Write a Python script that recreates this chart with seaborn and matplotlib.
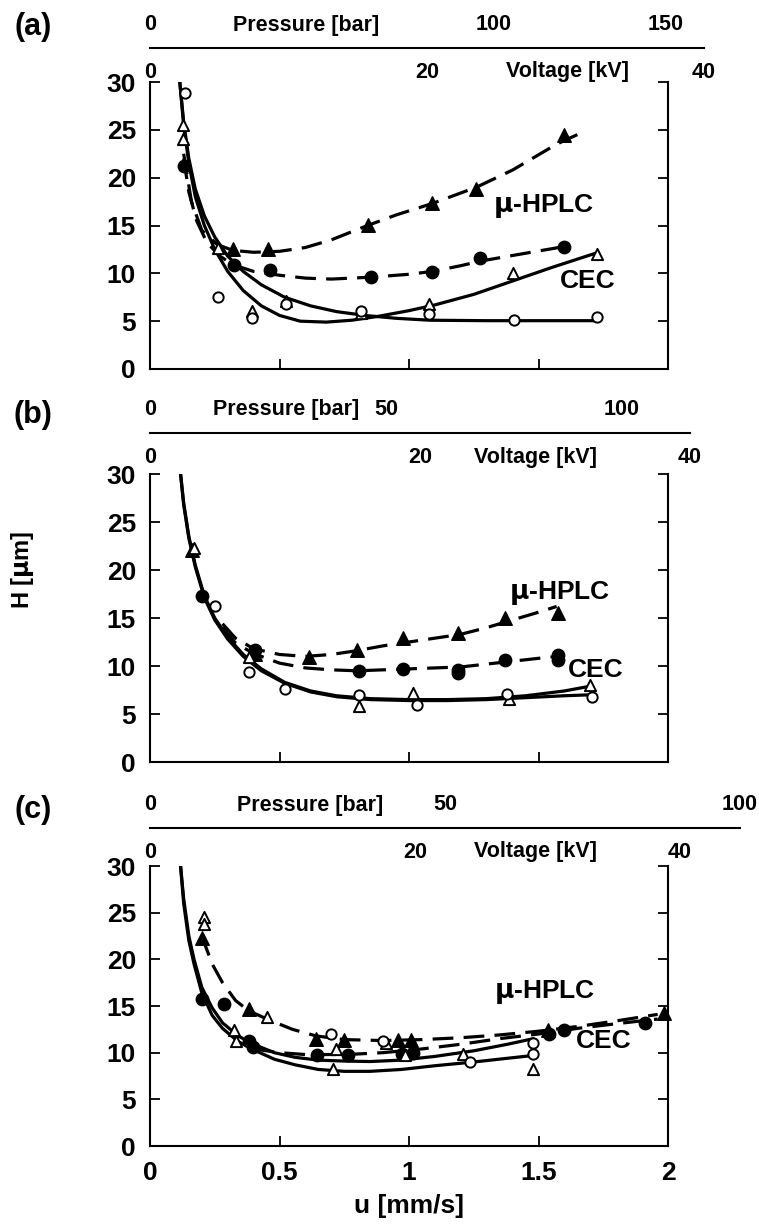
import matplotlib
matplotlib.use("Agg")
import matplotlib.pyplot as plt
import seaborn as sns
import numpy as np

sns.set_theme(style="white")
plt.rcParams['font.family'] = ['Liberation Sans', 'DejaVu Sans']
plt.rcParams['font.weight'] = 'bold'
plt.rcParams['mathtext.fontset'] = 'dejavusans'
for key in ['text.color', 'axes.labelcolor', 'xtick.color', 'ytick.color', 'axes.edgecolor']:
    plt.rcParams[key] = 'black'

# ---------------- data: panel (a) ----------------
a_ft_u = [0.32, 0.455, 0.84, 1.09, 1.26, 1.6]
a_ft_h = [12.5, 12.5, 15.1, 17.4, 18.8, 24.5]
a_fc_u = [0.131, 0.324, 0.462, 0.855, 1.09, 1.276, 1.6]
a_fc_h = [21.2, 10.9, 10.3, 9.6, 10.1, 11.6, 12.8]
a_ot_u = [0.127, 0.127, 0.262, 0.393, 0.524, 0.814, 1.076, 1.40, 1.724]
a_ot_h = [25.5, 24.0, 12.6, 6.1, 7.1, 5.9, 6.8, 10.0, 12.0]
a_oc_u = [0.135, 0.262, 0.393, 0.524, 0.814, 1.076, 1.407, 1.724]
a_oc_h = [28.9, 7.5, 5.3, 6.8, 6.1, 5.8, 5.1, 5.4]
a_cec_t_u = [0.115, 0.13, 0.15, 0.175, 0.21, 0.25, 0.3, 0.36, 0.43, 0.5, 0.58, 0.68, 0.78, 0.88, 1.0, 1.1, 1.25, 1.4, 1.55, 1.72]
a_cec_t_h = [30, 25.5, 21.5, 18, 15, 12.5, 10.2, 8.2, 6.6, 5.6, 5.0, 4.9, 5.1, 5.5, 6.1, 6.7, 7.8, 9.2, 10.6, 12.1]
a_cec_c_u = [0.115, 0.13, 0.15, 0.175, 0.21, 0.25, 0.3, 0.36, 0.43, 0.52, 0.62, 0.72, 0.83, 0.95, 1.08, 1.3, 1.72]
a_cec_c_h = [30, 25.8, 22, 18.8, 16, 13.8, 11.8, 10.2, 8.8, 7.5, 6.6, 6.0, 5.6, 5.3, 5.1, 5.05, 5.05]
a_lc_t_u = [0.13, 0.16, 0.2, 0.26, 0.32, 0.4, 0.5, 0.6, 0.7, 0.84, 0.95, 1.09, 1.26, 1.4, 1.57, 1.65]
a_lc_t_h = [22.5, 17.5, 14.5, 13.0, 12.4, 12.2, 12.3, 12.7, 13.5, 15.0, 16.1, 17.3, 19.0, 20.8, 23.5, 24.5]
a_lc_c_u = [0.13, 0.15, 0.18, 0.22, 0.27, 0.32, 0.4, 0.5, 0.6, 0.7, 0.855, 1.0, 1.09, 1.2, 1.28, 1.45, 1.6]
a_lc_c_h = [22, 18.5, 15.5, 13.2, 11.8, 10.9, 10.2, 9.8, 9.5, 9.4, 9.6, 9.9, 10.2, 10.8, 11.3, 12.1, 12.8]

# ---------------- data: panel (b) ----------------
b_ft_u = [0.164, 0.404, 0.613, 0.80, 0.975, 1.19, 1.372, 1.574]
b_ft_h = [22.1, 11.3, 10.9, 11.7, 12.9, 13.4, 15.0, 15.5]
b_fc_u = [0.202, 0.404, 0.808, 0.975, 1.19, 1.19, 1.37, 1.574, 1.574]
b_fc_h = [17.3, 11.7, 9.5, 9.7, 9.6, 9.3, 10.6, 11.1, 10.6]
b_ot_u = [0.17, 0.383, 0.808, 1.017, 1.386, 1.70]
b_ot_h = [22.3, 10.9, 5.8, 7.2, 6.6, 8.0]
b_oc_u = [0.25, 0.383, 0.522, 0.808, 1.03, 1.38, 1.706]
b_oc_h = [16.2, 9.4, 7.6, 7.0, 5.9, 7.1, 6.8]
b_cec_t_u = [0.118, 0.13, 0.15, 0.175, 0.21, 0.25, 0.3, 0.36, 0.43, 0.52, 0.62, 0.72, 0.85, 1.0, 1.15, 1.3, 1.45, 1.6, 1.7]
b_cec_t_h = [30, 27, 23.5, 20.5, 17.3, 15, 13, 11.2, 9.7, 8.3, 7.4, 6.9, 6.6, 6.5, 6.5, 6.6, 6.9, 7.4, 7.9]
b_cec_c_u = [0.118, 0.13, 0.15, 0.175, 0.21, 0.25, 0.3, 0.36, 0.43, 0.52, 0.62, 0.72, 0.85, 1.0, 1.15, 1.3, 1.45, 1.6, 1.7]
b_cec_c_h = [30, 26.8, 23.3, 20.3, 17.1, 14.8, 12.8, 11.0, 9.5, 8.2, 7.3, 6.8, 6.5, 6.4, 6.4, 6.5, 6.7, 6.9, 7.0]
b_lc_t_u = [0.28, 0.33, 0.4, 0.5, 0.6, 0.7, 0.8, 0.9, 1.0, 1.1, 1.2, 1.3, 1.4, 1.5, 1.57]
b_lc_t_h = [14.4, 12.9, 11.8, 11.2, 11.0, 11.2, 11.6, 12.1, 12.5, 12.9, 13.3, 14.0, 14.8, 15.6, 16.2]
b_lc_c_u = [0.28, 0.33, 0.4, 0.5, 0.6, 0.7, 0.8, 0.9, 1.0, 1.1, 1.2, 1.3, 1.4, 1.5, 1.574]
b_lc_c_h = [14.0, 12.4, 11.3, 10.3, 9.8, 9.6, 9.5, 9.6, 9.7, 9.8, 9.9, 10.2, 10.5, 10.8, 11.0]

# ---------------- data: panel (c) ----------------
c_ft_u = [0.201, 0.382, 0.639, 0.75, 0.958, 1.007, 1.535, 1.985]
c_ft_h = [22.3, 14.7, 11.5, 11.35, 11.35, 11.35, 12.4, 14.2]
c_fc_u = [0.201, 0.285, 0.382, 0.396, 0.646, 0.764, 0.972, 1.014, 1.54, 1.597, 1.91]
c_fc_h = [15.8, 15.2, 11.2, 10.6, 9.75, 9.75, 9.9, 10.0, 12.0, 12.4, 13.2]
c_ot_u = [0.208, 0.208, 0.326, 0.333, 0.451, 0.708, 0.72, 0.91, 0.986, 1.208, 1.479]
c_ot_h = [24.5, 23.8, 12.4, 11.3, 13.8, 8.3, 10.4, 11.0, 9.8, 9.9, 8.3]
c_oc_u = [0.70, 0.90, 1.236, 1.48, 1.48]
c_oc_h = [12.0, 11.3, 9.0, 11.0, 9.9]
c_cec_1_u = [0.118, 0.13, 0.15, 0.17, 0.2, 0.24, 0.28, 0.34, 0.4, 0.48, 0.56, 0.65, 0.75, 0.85, 0.97, 1.1, 1.25, 1.38, 1.48]
c_cec_1_h = [30, 26.5, 22.5, 20, 17, 14.8, 13.2, 11.8, 10.9, 10.0, 9.5, 9.2, 9.1, 9.05, 9.2, 9.6, 10.2, 10.9, 11.5]
c_cec_2_u = [0.118, 0.13, 0.15, 0.17, 0.2, 0.24, 0.28, 0.34, 0.4, 0.48, 0.56, 0.65, 0.75, 0.85, 0.97, 1.1, 1.25, 1.38, 1.48]
c_cec_2_h = [30, 26, 22, 19.5, 16.4, 14, 12.6, 11.2, 10.3, 9.3, 8.7, 8.2, 8.0, 8.0, 8.2, 8.6, 9.0, 9.4, 9.7]
c_lc_t_u = [0.2, 0.24, 0.28, 0.33, 0.38, 0.46, 0.55, 0.64, 0.75, 0.9, 1.05, 1.2, 1.35, 1.5, 1.65, 1.8, 1.96]
c_lc_t_h = [22.5, 19.5, 17.5, 15.6, 14.5, 13.5, 12.5, 11.8, 11.4, 11.3, 11.4, 11.6, 11.9, 12.3, 12.8, 13.4, 14.1]
c_lc_c_u = [0.4, 0.5, 0.6, 0.76, 0.9, 1.05, 1.2, 1.35, 1.5, 1.65, 1.8, 1.96]
c_lc_c_h = [10.4, 10.0, 9.8, 9.8, 10.0, 10.4, 10.9, 11.5, 12.0, 12.6, 13.1, 13.6]

u_ticks = [0, 0.5, 1, 1.5, 2]
u_ticklabels = ["0", "0.5", "1", "1.5", "2"]
h_ticks = [0, 5, 10, 15, 20, 25, 30]
volt_ticks = [0, 20, 40]
press_ticks_a = [0, 100, 150]
press_ticks_b = [0, 50, 100]
press_ticks_c = [0, 50, 100]
panel_labels = ["(a)", "(b)", "(c)"]

W, HH = 759, 1228
fig = plt.figure(figsize=(W / 100, HH / 100), dpi=100)

def fx(px):
    return px / W

def fy(py):
    return 1 - py / HH

TICKFS = 19
SMALLFS = 15.5
LW = 2.3
DASH = (0, (6.5, 3.2))

panels = [
    dict(top=82, bot=369, line_y=48, v0=150, v40=704, vend=704, pscale=3.44, pticks=press_ticks_a,
         lab_y=27, vlab_x=568, plab_x=306,
         solid=[(a_cec_t_u, a_cec_t_h), (a_cec_c_u, a_cec_c_h)],
         dashed=[(a_lc_t_u, a_lc_t_h), (a_lc_c_u, a_lc_c_h)],
         ft=(a_ft_u, a_ft_h), fc=(a_fc_u, a_fc_h), ot=(a_ot_u, a_ot_h), oc=(a_oc_u, a_oc_h),
         hplc=(1.52, 17.0), cec=(1.69, 9.2)),
    dict(top=474, bot=762, line_y=433, v0=150, v40=690, vend=690, pscale=4.72, pticks=press_ticks_b,
         lab_y=415, vlab_x=536, plab_x=286,
         solid=[(b_cec_t_u, b_cec_t_h), (b_cec_c_u, b_cec_c_h)],
         dashed=[(b_lc_t_u, b_lc_t_h), (b_lc_c_u, b_lc_c_h)],
         ft=(b_ft_u, b_ft_h), fc=(b_fc_u, b_fc_h), ot=(b_ot_u, b_ot_h), oc=(b_oc_u, b_oc_h),
         hplc=(1.58, 17.6), cec=(1.72, 9.6)),
    dict(top=866, bot=1146, line_y=828, v0=150, v40=680, vend=740, pscale=5.9, pticks=press_ticks_c,
         lab_y=810, vlab_x=536, plab_x=310,
         solid=[(c_cec_1_u, c_cec_1_h), (c_cec_2_u, c_cec_2_h)],
         dashed=[(c_lc_t_u, c_lc_t_h), (c_lc_c_u, c_lc_c_h)],
         ft=(c_ft_u, c_ft_h), fc=(c_fc_u, c_fc_h), ot=(c_ot_u, c_ot_h), oc=(c_oc_u, c_oc_h),
         hplc=(1.525, 16.5), cec=(1.75, 11.3)),
]

for i, p in enumerate(panels):
    ax = fig.add_axes([fx(150), fy(p['bot']), fx(668) - fx(150), (p['bot'] - p['top']) / HH])
    ax.set_xlim(0, 2)
    ax.set_ylim(0, 30)
    ax.patch.set_visible(False)
    for s in ['left', 'right', 'bottom']:
        ax.spines[s].set_visible(True)
        ax.spines[s].set_color('black')
        ax.spines[s].set_linewidth(1.5)
    ax.spines['top'].set_visible(False)

    for uu, hh in p['solid']:
        sns.lineplot(x=uu, y=hh, ax=ax, color='black', linewidth=LW, sort=False, estimator=None)
    for uu, hh in p['dashed']:
        sns.lineplot(x=uu, y=hh, ax=ax, color='black', linewidth=LW, sort=False, estimator=None,
                     linestyle=DASH)
    sns.scatterplot(x=p['ft'][0], y=p['ft'][1], ax=ax, marker='^', s=95, color='black',
                    edgecolor='black', linewidth=1.0, zorder=5, clip_on=False)
    sns.scatterplot(x=p['fc'][0], y=p['fc'][1], ax=ax, marker='o', s=80, color='black',
                    edgecolor='black', linewidth=1.0, zorder=5, clip_on=False)
    sns.scatterplot(x=p['ot'][0], y=p['ot'][1], ax=ax, marker='^', s=65, color='white',
                    edgecolor='black', linewidth=1.4, zorder=6, clip_on=False)
    sns.scatterplot(x=p['oc'][0], y=p['oc'][1], ax=ax, marker='o', s=55, color='white',
                    edgecolor='black', linewidth=1.4, zorder=6, clip_on=False)

    ax.text(p['hplc'][0], p['hplc'][1], r'$\mathrm{\mu}$-HPLC', fontsize=19, fontweight='bold',
            ha='center', va='center')
    ax.text(p['cec'][0], p['cec'][1], 'CEC', fontsize=19, fontweight='bold', ha='center', va='center')

    ax.set_yticks(h_ticks)
    ax.set_yticklabels([str(t) for t in h_ticks], fontsize=TICKFS, fontweight='bold')
    ax.set_xticks(u_ticks)
    ax.tick_params(axis='both', which='both', direction='in', length=7, width=1.3, colors='black')
    ax.tick_params(axis='y', left=True, right=True, pad=10)
    ax.tick_params(axis='x', bottom=True, top=False, pad=11)
    if i == 2:
        ax.set_xticklabels(u_ticklabels, fontsize=TICKFS, fontweight='bold')
        ax.set_xlabel('u [mm/s]', fontsize=19, fontweight='bold', labelpad=6)
    else:
        ax.set_xticklabels([])
    ax.set_ylabel('')

    # top voltage / pressure scale
    vmax = 40 * (p['vend'] - p['v0']) / (p['v40'] - p['v0'])
    tax = fig.add_axes([fx(p['v0']), fy(p['line_y']), fx(p['vend']) - fx(p['v0']), 0.0005])
    tax.set_xlim(0, vmax)
    tax.set_ylim(0, 1)
    tax.patch.set_visible(False)
    for s in ['top', 'left', 'right']:
        tax.spines[s].set_visible(False)
    tax.spines['bottom'].set_color('black')
    tax.spines['bottom'].set_linewidth(1.5)
    tax.set_yticks([])
    tax.set_xticks(volt_ticks)
    tax.set_xticklabels([str(t) for t in volt_ticks], fontsize=SMALLFS, fontweight='bold')
    tax.tick_params(axis='x', direction='out', length=8, width=1.3, pad=2, colors='black')
    kv_per_px = 40 / (p['v40'] - p['v0'])
    k = p['pscale'] * kv_per_px  # kV per bar
    sec = tax.secondary_xaxis('top', functions=(lambda v, k=k: v / k, lambda b, k=k: b * k))
    sec.set_xticks(p['pticks'])
    sec.set_xticklabels([str(t) for t in p['pticks']], fontsize=SMALLFS, fontweight='bold')
    sec.tick_params(axis='x', length=0, pad=9, colors='black')
    sec.spines['top'].set_visible(False)

    fig.text(fx(p['vlab_x']), fy(p['line_y'] + 24), 'Voltage [kV]', fontsize=SMALLFS,
             fontweight='bold', ha='center', va='center')
    fig.text(fx(p['plab_x']), fy(p['line_y'] - 23), 'Pressure [bar]', fontsize=SMALLFS,
             fontweight='bold', ha='center', va='center')
    fig.text(fx(33), fy(p['lab_y']), panel_labels[i], fontsize=22, fontweight='bold',
             ha='center', va='center')

fig.text(fx(22), fy(570), r'H [$\mathrm{\mu}$m]', fontsize=17, fontweight='bold', rotation=90,
         ha='center', va='center')

fig.savefig('out.png', dpi=100)
